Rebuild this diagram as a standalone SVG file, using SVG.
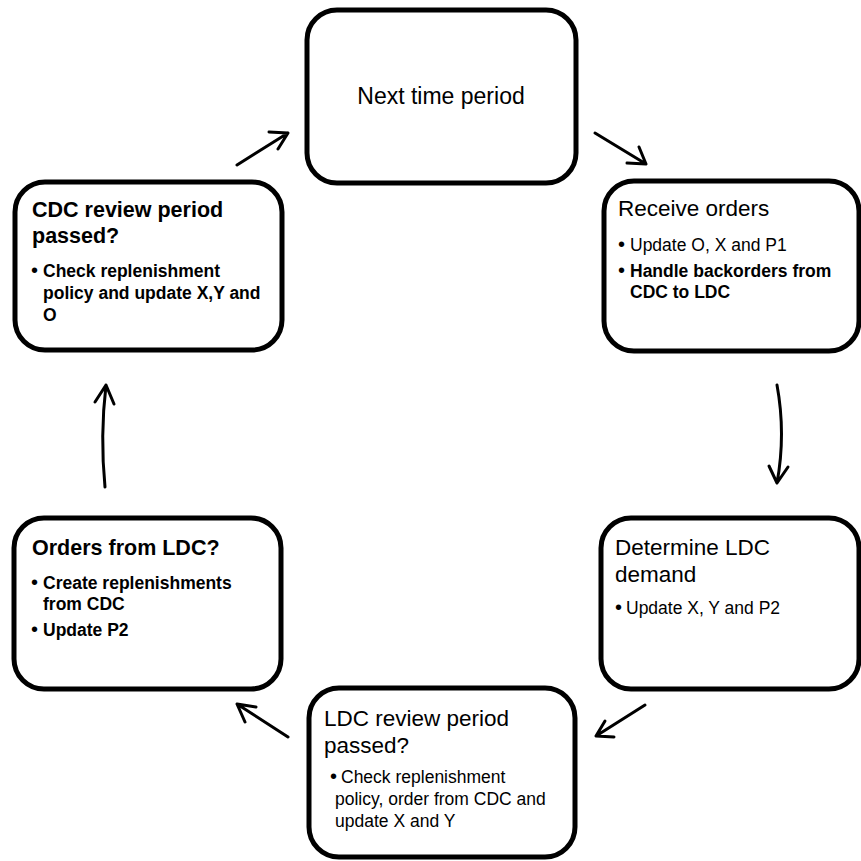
<svg xmlns="http://www.w3.org/2000/svg" width="861" height="861" viewBox="0 0 861 861">
<style>
.box{fill:#fff;stroke:#000;stroke-width:5}
.t{font-family:"Liberation Sans",Arial,sans-serif;fill:#000}
.title{font-size:22.5px}
.btitle{font-size:21.5px;font-weight:bold}
.b{font-size:17.5px}
.bb{font-size:17.5px;font-weight:bold}
.dot{font-family:"Liberation Sans",Arial,sans-serif;fill:#000;font-size:20px}
.arr{fill:none;stroke:#000;stroke-width:3;stroke-linecap:round;stroke-linejoin:round}
</style>
<rect width="861" height="861" fill="#fff"/>
<g id="connectors">
<path class="arr" d="M237,165 L288,133 M269,132 L288,133 L278,149"/>
<path class="arr" d="M595,133 L646,164 M639,147 L646,164 L627,163"/>
<path class="arr" d="M777,385 Q786,434 777,483 M769,466 L777,483 L788,467"/>
<path class="arr" d="M645,705 L596,736 M605,721 L596,736 L614,737"/>
<path class="arr" d="M288,737 L237,704 M256,707 L237,704 L245,722"/>
<path class="arr" d="M105,487 Q100,436 106,385 M95,402 L106,385 L114,404"/>
</g>
<g id="next">
<rect class="box" x="307" y="10" width="269" height="173" rx="30"/>
<text class="t" x="441" y="104" font-size="23" text-anchor="middle">Next time period</text>
</g>
<g id="receive">
<rect class="box" x="604" y="181" width="255" height="170" rx="30"/>
<text class="t title" x="618" y="216">Receive orders</text>
<text class="dot" x="618" y="251">•</text>
<text class="t b" x="630" y="251">Update O, X and P1</text>
<text class="dot" x="618" y="277">•</text>
<text class="t bb" x="630" y="277">Handle backorders from</text>
<text class="t bb" x="630" y="298">CDC to LDC</text>
</g>
<g id="determine">
<rect class="box" x="601" y="518" width="258" height="171" rx="30"/>
<text class="t title" x="615" y="555">Determine LDC</text>
<text class="t title" x="615" y="582">demand</text>
<text class="dot" x="615" y="614">•</text>
<text class="t b" x="626" y="614">Update X, Y and P2</text>
</g>
<g id="ldcreview">
<rect class="box" x="309" y="688" width="266" height="169" rx="30"/>
<text class="t title" x="324" y="726">LDC review period</text>
<text class="t title" x="324" y="753">passed?</text>
<text class="dot" x="330" y="783">•</text>
<text class="t b" x="341" y="783">Check replenishment</text>
<text class="t b" x="335" y="805">policy, order from CDC and</text>
<text class="t b" x="335" y="827">update X and Y</text>
</g>
<g id="orders">
<rect class="box" x="14" y="518" width="267" height="171" rx="30"/>
<text class="t btitle" x="32" y="555">Orders from LDC?</text>
<text class="dot" x="31" y="589">•</text>
<text class="t bb" x="43" y="589">Create replenishments</text>
<text class="t bb" x="43" y="610">from CDC</text>
<text class="dot" x="31" y="636">•</text>
<text class="t bb" x="43" y="636">Update P2</text>
</g>
<g id="cdcreview">
<rect class="box" x="15" y="182" width="267" height="168" rx="30"/>
<text class="t btitle" x="32" y="217">CDC review period</text>
<text class="t btitle" x="32" y="243">passed?</text>
<text class="dot" x="31" y="277">•</text>
<text class="t bb" x="43" y="277">Check replenishment</text>
<text class="t bb" x="43" y="299">policy and update X,Y and</text>
<text class="t bb" x="43" y="321">O</text>
</g>
</svg>
